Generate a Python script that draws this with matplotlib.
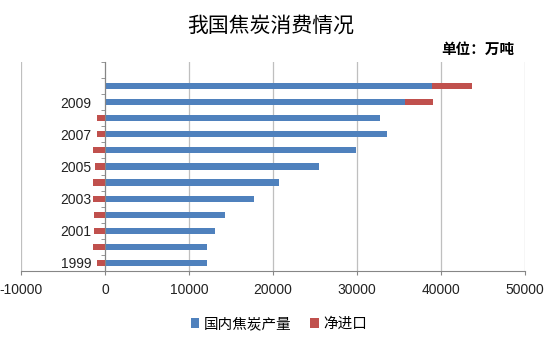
import numpy as np
import matplotlib.pyplot as plt
from matplotlib.ticker import FixedLocator

plt.rcParams['font.family'] = ['Liberation Sans', 'Noto Sans CJK SC']

# 数据 (万吨)
years = ['1999', '2000', '2001', '2002', '2003', '2004', '2005',
         '2006', '2007', '2008', '2009', '2010']
production = [12140, 12200, 13160, 14280, 17770, 20700, 25540,
              29900, 33640, 32760, 35700, 38950]
net_import = [-950, -1470, -1310, -1350, -1390, -1390, -1190,
              -1390, -950, -990, 3380, 4760]
xticks = [-10000, 0, 10000, 20000, 30000, 40000, 50000]

blue = '#4F81BD'
red = '#C0504D'
axis_gray = '#868686'

y = np.arange(len(years))
prod = np.array(production)
net = np.array(net_import)
net_left = np.where(net > 0, prod, 0)

fig = plt.figure(figsize=(5.53, 3.37), dpi=100)
ax = fig.add_axes([0.038, 0.196, 0.911, 0.62])

ax.barh(y, prod, height=0.38, color=blue, label='国内焦炭产量', zorder=3)
ax.barh(y, net, left=net_left, height=0.38, color=red, label='净进口', zorder=3)

ax.set_xlim(-10000, 50000)
ax.set_ylim(-0.5, len(years) + 0.5)  # 顶部留一个空类别
ax.set_xticks(xticks)
ax.set_xticklabels([str(v) for v in xticks], fontsize=10, color='#222222')
ax.grid(axis='x', color='#BFBFBF', linewidth=0.9, zorder=0)

# 分类轴放在 0 处
ax.spines['left'].set_position(('data', 0))
ax.spines['left'].set_color(axis_gray)
ax.spines['left'].set_zorder(4)
ax.spines['bottom'].set_color(axis_gray)
ax.spines['top'].set_visible(False)
ax.spines['right'].set_visible(False)

ax.set_yticks(y[::2])
ax.set_yticklabels(years[::2], fontsize=10, color='#222222')
ax.yaxis.set_minor_locator(FixedLocator(np.arange(-0.5, len(years) + 1, 1)))
ax.tick_params(axis='y', which='major', length=0, pad=10)
ax.tick_params(axis='y', which='minor', length=3, color=axis_gray)
ax.tick_params(axis='x', length=3, color=axis_gray, pad=6)

fig.text(0.49, 0.925, '我国焦炭消费情况', ha='center', va='center',
         fontsize=15, family='Noto Sans CJK SC')
fig.text(0.93, 0.855, '单位：万吨', ha='right', va='center',
         fontsize=10.5, fontweight='bold', family='Noto Sans CJK SC')

ax.legend(loc='center', bbox_to_anchor=(0.512, -0.255), ncol=2, frameon=False,
          prop={'family': 'Noto Sans CJK SC', 'size': 10.5},
          handlelength=0.6, handleheight=0.6, handletextpad=0.3,
          columnspacing=1.3)

fig.savefig('out.png', dpi=100)
